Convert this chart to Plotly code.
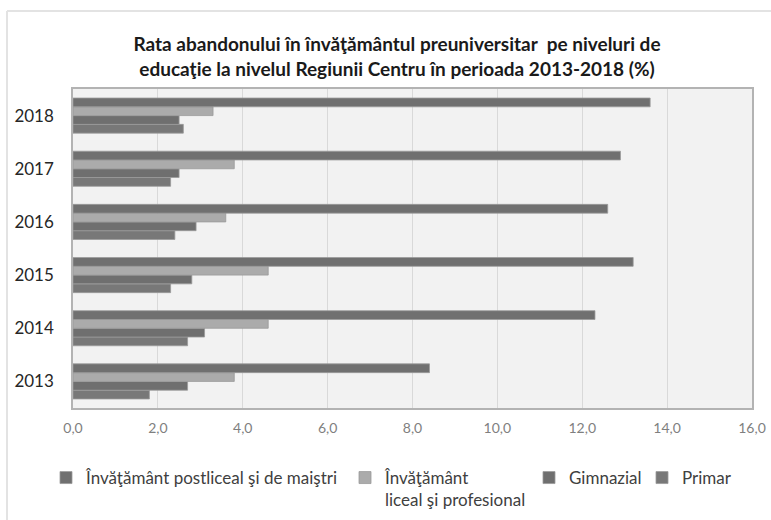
import plotly.graph_objects as go

years = ["2013", "2014", "2015", "2016", "2017", "2018"]
postliceal = [8.4, 12.3, 13.2, 12.6, 12.9, 13.6]
liceal = [3.8, 4.6, 4.6, 3.6, 3.8, 3.3]
gimnazial = [2.7, 3.1, 2.8, 2.9, 2.5, 2.5]
primar = [1.8, 2.7, 2.3, 2.4, 2.3, 2.6]

names = ["Învăţământ postliceal şi de maiştri",
         "Învăţământ<br>liceal şi profesional",
         "Gimnazial",
         "Primar"]
colors = ["#707070", "#ababab", "#6f6f6f", "#787878"]
series = [postliceal, liceal, gimnazial, primar]
legend_ids = ["legend", "legend2", "legend3", "legend4"]

# figure / plot-area geometry (pixels)
W, H = 771, 520
ML, MR, MT, MB = 73, 19, 89, 112
PW, PH = W - ML - MR, H - MT - MB


def px_x(x):
    return (x - ML) / PW


def px_y(y):
    return (H - MB - y) / PH


fig = go.Figure()
# add bottom-most first so the postliceal bar sits on top of each group
for name, vals, col, lg in reversed(list(zip(names, series, colors, legend_ids))):
    fig.add_trace(go.Bar(
        y=years, x=vals, name=name, orientation="h", legend=lg, showlegend=True,
        marker=dict(color=col, line=dict(color="#9a9a9a", width=0.8)),
    ))

FONT = "Lato"
legend_left = [46, 345, 529, 642]
leg_common = dict(orientation="h", xanchor="left", yanchor="top", valign="top",
                  font=dict(family=FONT, size=17, color="#404040"),
                  bgcolor="rgba(0,0,0,0)", itemwidth=30)
legends = {}
for lg, lx in zip(legend_ids, legend_left):
    legends[lg] = dict(leg_common, x=px_x(lx), y=px_y(460))

fig.update_layout(
    width=W, height=H,
    margin=dict(l=ML, r=MR, t=MT, b=MB, autoexpand=False),
    paper_bgcolor="white", plot_bgcolor="#f2f2f2",
    showlegend=True,
    barmode="group", bargap=0.34, bargroupgap=0,
    separators=", ",
    font=dict(family=FONT, color="#404040"),
    title=dict(
        text="<b>Rata abandonului în învăţământul preuniversitar  pe niveluri de<br>educaţie la nivelul Regiunii Centru în perioada 2013-2018 (%)</b>",
        x=397 / W, xref="container", xanchor="center",
        y=1 - 51 / H, yref="container", yanchor="top",
        font=dict(family=FONT, size=19, color="#1a1a1a"),
    ),
    xaxis=dict(
        range=[0, 16], dtick=2, tickformat=".1f",
        showgrid=True, gridcolor="#d9d9d9", gridwidth=1,
        showline=True, mirror=True, linecolor="#b3b3b3", linewidth=1.5,
        zeroline=False, ticks="", ticklabelstandoff=6,
        tickfont=dict(family=FONT, size=14, color="#7f7f7f"),
        fixedrange=True, automargin=False,
    ),
    yaxis=dict(
        showgrid=False,
        showline=True, mirror=True, linecolor="#b3b3b3", linewidth=1.5,
        ticks="", ticklabelstandoff=14,
        tickfont=dict(family=FONT, size=17, color="#262626"),
        fixedrange=True, automargin=False,
    ),
    shapes=[
        dict(type="line", xref="paper", yref="paper",
             x0=px_x(7), x1=px_x(7), y0=px_y(11), y1=px_y(H),
             line=dict(color="#e3e3e3", width=2)),
        dict(type="line", xref="paper", yref="paper",
             x0=px_x(7), x1=px_x(W), y0=px_y(11), y1=px_y(11),
             line=dict(color="#e3e3e3", width=2)),
    ],
    **legends,
)

fig.write_html("out.html", config={"displayModeBar": False},
               post_script="document.body.style.margin='0';")
